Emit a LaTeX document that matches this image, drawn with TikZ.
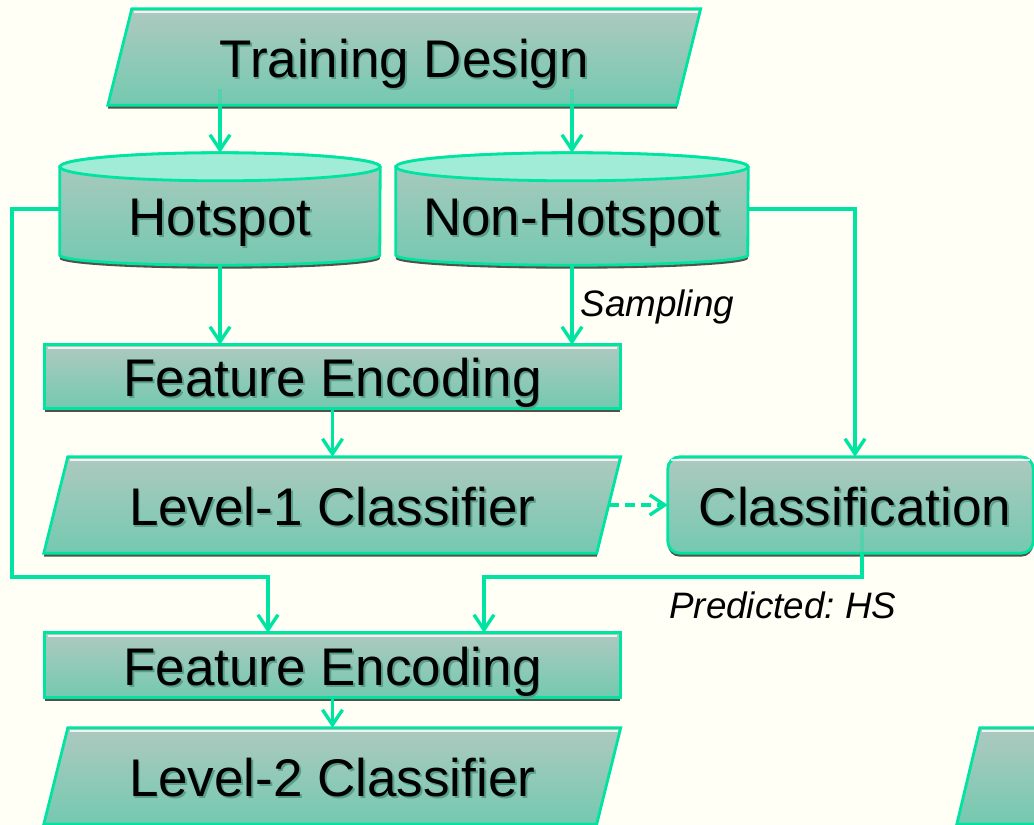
\documentclass[tikz,border=0pt]{standalone}
\usepackage{fontspec}
\setmainfont{Liberation Sans}
\usetikzlibrary{arrows.meta,calc}

\definecolor{bgc}{RGB}{255,255,246}
\definecolor{bordc}{RGB}{0,228,162}
\definecolor{topc}{RGB}{174,201,191}
\definecolor{botc}{RGB}{116,201,176}
\definecolor{capc}{RGB}{160,236,214}
\definecolor{shadc}{RGB}{82,82,74}
\definecolor{txtsh}{RGB}{88,160,138}

\pgfdeclarelayer{bg}
\pgfsetlayers{bg,main}

% text with a soft drop shadow
\newcommand\shtext[1]{\leavevmode\rlap{\kern1.8pt\raisebox{-2.2pt}{\textcolor{txtsh}{#1}}}#1}

% outline paths built on a holder node: #1 node, #2 half slant, #3 vertical offset
\newcommand\parapath[3]{($(#1.north west)+(#2,#3)$) -- ($(#1.north east)+(#2,#3)$) -- ($(#1.south east)+(-#2,#3)$) -- ($(#1.south west)+(-#2,#3)$) -- cycle}
\newcommand\rectpath[2]{($(#1.north west)+(0,#2)$) rectangle ($(#1.south east)+(0,#2)$)}
% cylinder body: #1 node, #2 x radius, #3 vertical offset
\newcommand\cylpath[3]{($(#1.north west)+(0,14+#3)$) -- ($(#1.south west)+(0,-10+#3)$) arc[start angle=180,end angle=360,x radius=#2,y radius=10pt] -- ($(#1.north east)+(0,14+#3)$) arc[start angle=0,end angle=180,x radius=#2,y radius=14pt] -- cycle}

\newcommand\parabox[2]{%
  \fill[shadc] \parapath{#1}{#2}{3.5};
  \shade[top color=topc,bottom color=botc] \parapath{#1}{#2}{0};
  \draw[edge] \parapath{#1}{#2}{0};
  \draw[hl] ($(#1.north west)+(#2+2.5,3.2)$) -- ($(#1.north east)+(#2-2.5,3.2)$);
}
\newcommand\rectbox[2][]{%
  \fill[shadc,#1] \rectpath{#2}{3.5};
  \shade[top color=topc,bottom color=botc,#1] \rectpath{#2}{0};
  \draw[edge,#1] \rectpath{#2}{0};
  \draw[hl] ($(#2.north west)+(3,3.2)$) -- ($(#2.north east)+(-3,3.2)$);
}
\newcommand\cylbox[2]{%
  \fill[shadc] \cylpath{#1}{#2}{3.5};
  \shade[top color=topc,bottom color=botc] \cylpath{#1}{#2}{0};
  \draw[edge] \cylpath{#1}{#2}{0};
  \filldraw[fill=capc,edge] ($(#1.north)+(0,14)$) ellipse[x radius=#2,y radius=14pt];
}

\begin{document}
\begin{tikzpicture}[x=1pt,y=-1pt,
  holder/.style={inner sep=0pt,text height=40pt,text depth=0pt,
    font=\fontsize{53}{60}\selectfont},
  cylholder/.style={holder,text height=52pt},
  edge/.style={draw=bordc,line width=2.8pt,line join=miter},
  hl/.style={draw=white,line width=2pt,opacity=0.8},
  conn/.style={draw=bordc,line width=3.4pt,line join=miter},
  arr/.style={conn,-{Straight Barb[length=15pt,width=20pt]}},
  faint/.style={conn,draw opacity=0.3},
  lbl/.style={inner sep=0pt,font=\fontsize{36.8}{40}\selectfont\itshape\frenchspacing}]

\useasboundingbox (0,0) rectangle (1034,825);

% holder nodes carrying the texts
\node[holder,minimum width=568.5pt,minimum height=96pt] (train) at (404.25,57) {\shtext{Training Design}};
\node[cylholder,minimum width=320pt,minimum height=112pt] (hot) at (220,209) {\shtext{Hotspot}};
\node[cylholder,minimum width=352pt,minimum height=112pt] (nonhot) at (572,209) {\shtext{Non-Hotspot}};
\node[holder,minimum width=575pt,minimum height=63pt] (fe1) at (332.5,376.5) {\shtext{Feature Encoding}};
\node[holder,minimum width=552.5pt,minimum height=96pt] (lv1) at (332.25,505) {\shtext{Level-1 Classifier}};
\node[holder,minimum width=365pt,minimum height=96pt] (cls) at (850.5,505) {\hspace*{9pt}\shtext{Classification}};
\node[holder,minimum width=575pt,minimum height=64pt] (fe2) at (332.5,665) {\shtext{Feature Encoding}};
\node[holder,minimum width=552.5pt,minimum height=96pt] (lv2) at (332.25,776) {\shtext{Level-2 Classifier}};
\node[holder,minimum width=552.5pt,minimum height=96pt] (lv3) at (1244.75,776) {};

% shapes behind the texts
\begin{pgfonlayer}{bg}
  \clip (0,0) rectangle (1034,825);
  \fill[bgc] (0,0) rectangle (1034,825);
  \parabox{train}{12}
  \cylbox{hot}{160pt}
  \cylbox{nonhot}{176pt}
  \rectbox{fe1}
  \parabox{lv1}{12}
  \rectbox[rounded corners=12pt]{cls}
  \rectbox{fe2}
  \parabox{lv2}{12}
  \parabox{lv3}{11.5}
\end{pgfonlayer}

% connectors
\draw[faint] (train.south -| hot.north) -- ++(0,-16);
\draw[arr] (train.south -| hot.north) -- (hot.north);
\draw[faint] (train.south -| nonhot.north) -- ++(0,-16);
\draw[arr] (train.south -| nonhot.north) -- (nonhot.north);

\draw[arr] (hot.south) -- (hot.south |- fe1.north);
\draw[arr] (nonhot.south) -- (nonhot.south |- fe1.north)
  node[lbl,pos=0.65,anchor=base west,xshift=7pt] (samp) {Sampling};

\draw[arr] (fe1.south) -- (fe1.south |- lv1.north);
\draw[arr,dash pattern=on 10pt off 6pt] (lv1.east) -- (cls.west);

\coordinate (tapC) at ($(cls.north)+(4.5,0)$);
\draw[arr] (nonhot.east) -| (tapC);

\coordinate (loopL) at (12,577);
\coordinate (joinL) at (268,577);
\draw[arr] (hot.west) -| (loopL) -- (joinL) -- (joinL |- fe2.north);

\coordinate (tapR) at ($(cls.south)+(11.5,0)$);
\coordinate (joinR) at (484,577);
\draw[faint] (tapR) -- ++(0,-26);
\draw[arr] (tapR) |- (joinR) -- (joinR |- fe2.north);
\node[lbl,anchor=base west] (pred) at (669,618) {Predicted: HS};

\draw[arr] (fe2.south) -- (fe2.south |- lv2.north);
\end{tikzpicture}
\end{document}
